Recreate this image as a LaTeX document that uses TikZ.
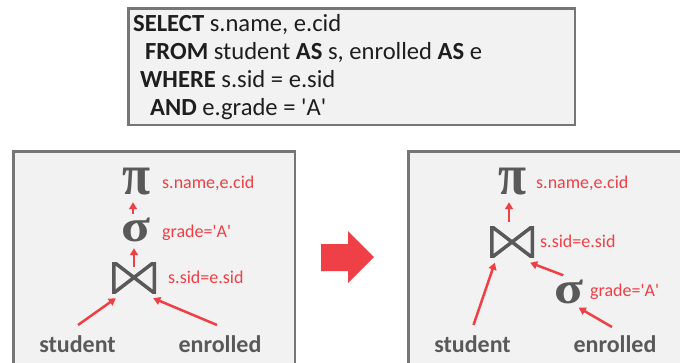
\documentclass[tikz,border=0pt]{standalone}
\usepackage{fontspec}
\setmainfont{Carlito}
\newfontfamily\greekf{Liberation Serif}
\usetikzlibrary{arrows.meta,calc}
\definecolor{redc}{RGB}{238,64,70}
\definecolor{grayt}{RGB}{89,89,89}
\definecolor{panelfill}{RGB}{242,242,242}
\definecolor{panelline}{RGB}{118,118,118}
\definecolor{sqltext}{RGB}{30,30,30}
\newcommand{\sq}{\textquotesingle}
\tikzset{
  panel/.style={draw=panelline, line width=2.5pt, fill=panelfill},
  sqlbox/.style={draw=panelline, line width=2.5pt, fill=panelfill, inner sep=0},
  sqlline/.style={anchor=base west, inner sep=0, font=\fontsize{24.6}{28}\selectfont, text=sqltext},
  lbl/.style={anchor=base west, inner sep=0, font=\fontsize{18}{20}\selectfont, text=redc},
  rel/.style={anchor=base, inner sep=0, font=\fontsize{24}{26}\selectfont\bfseries, text=grayt},
  arr/.style={draw=redc, line width=2.5pt, -{Triangle[length=7pt,width=8pt]}},
  opsym/.style={inner sep=0, text=grayt},
  bowtie/.style={minimum width=44pt, minimum height=31pt, inner sep=0,
    path picture={
      \draw[grayt, line width=3.5pt, line join=miter]
        ($(path picture bounding box.north west)+(1.75,0)$) --
        ($(path picture bounding box.south east)+(-1.75,0)$) --
        ($(path picture bounding box.north east)+(-1.75,0)$) --
        ($(path picture bounding box.south west)+(1.75,0)$) -- cycle;}},
}
\begin{document}
\begin{tikzpicture}[x=1pt,y=-1pt]
\clip (0,0) rectangle (680,362);
\fill[white] (0,0) rectangle (680,362);
% SQL box
\node[sqlbox, minimum width=446.5pt, minimum height=116.5pt] (box) at (351.5,66.5) {};
\node[sqlline] (q1) at (133,31) {\textbf{SELECT} s.name, e.cid};
\node[sqlline] (q2) at (145,59) {\textbf{FROM} student \textbf{AS} s, enrolled \textbf{AS} e};
\node[sqlline] (q3) at (140,87) {\textbf{WHERE} s.sid = e.sid};
\node[sqlline] (q4) at (150,115) {\textbf{AND} e.grade = \sq A\sq};
% panels
\draw[panel] (13.25,151.25) rectangle (294.75,380);
\draw[panel] (408.25,151.25) rectangle (700,380);
% big arrow
\fill[redc] (321,244) -- (348,244) -- (348,231) -- (374,257) -- (348,283) -- (348,271) -- (321,271) -- cycle;
% left tree
\node[opsym] (p1) at (136.5,181.5) {\resizebox*{28pt}{27pt}{\greekf\bfseries π}};
\node[opsym] (s1) at (136,230) {\resizebox*{29pt}{24pt}{\greekf\bfseries σ}};
\node[bowtie] (j1) at (134,277.5) {};
\node[lbl] (l1) at (162,188) {s.name,e.cid};
\node[lbl] (l2) at (162,237) {grade=\sq A\sq};
\node[lbl] (l3) at (168,283) {s.sid=e.sid};
\node[rel] (st1) at (77.5,352) {student};
\node[rel] (en1) at (220,352) {enrolled};
\draw[arr] ($(s1.north)+(-3,-4)$) -- ($(p1.south)+(-3.5,7)$);
\draw[arr] ($(j1.north)+(0,5)$) -- ($(s1.south)+(-2,6)$);
\draw[arr] ($(st1.base)+(0.5,-27)$) -- ($(j1.south west)+(4,5)$);
\draw[arr] ($(en1.base)+(-3,-27)$) -- ($(j1.south east)+(-3,5)$);
% right tree
\node[opsym] (p2) at (512,181.5) {\resizebox*{28pt}{27pt}{\greekf\bfseries π}};
\node[bowtie] (j2) at (512,242) {};
\node[opsym] (s2) at (569,291.5) {\resizebox*{29pt}{24pt}{\greekf\bfseries σ}};
\node[lbl] (r1) at (536,188) {s.name,e.cid};
\node[lbl] (r2) at (540,247) {s.sid=e.sid};
\node[lbl] (r3) at (590,296) {grade=\sq A\sq};
\node[rel] (st2) at (472.5,352) {student};
\node[rel] (en2) at (615,352) {enrolled};
\draw[arr] ($(j2.north)+(-3,-4)$) -- ($(p2.south)+(-3,7)$);
\draw[arr] ($(st2.base)+(1,-27)$) -- ($(j2.south west)+(5,5)$);
\draw[arr] ($(s2.north west)+(9,-4)$) -- ($(j2.south east)+(-4,5)$);
\draw[arr] ($(en2.base)+(-3,-25)$) -- ($(s2.south east)+(-5,4)$);
\end{tikzpicture}
\end{document}
